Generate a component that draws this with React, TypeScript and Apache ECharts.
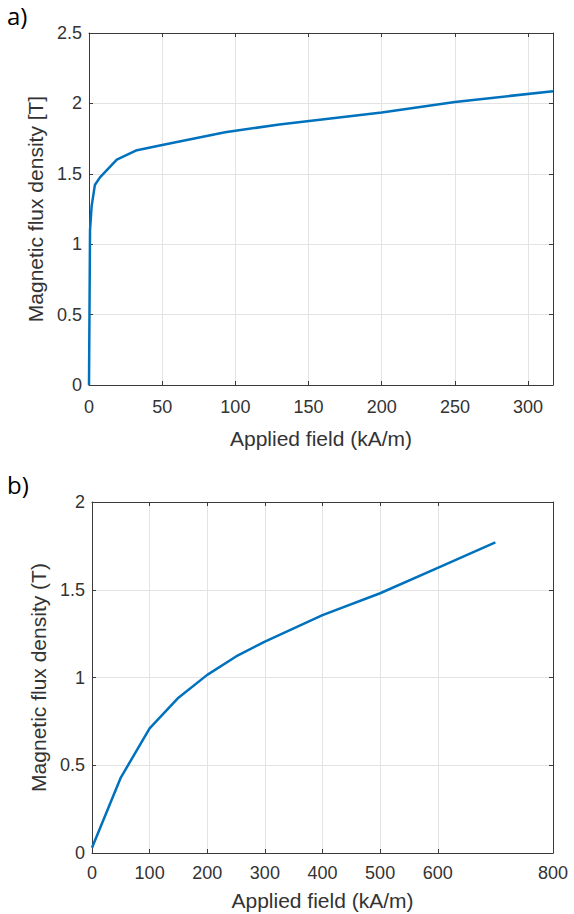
import React, { useEffect, useRef } from "react";
import * as echarts from "echarts";

// Panel a)
const xTicksA = [0, 50, 100, 150, 200, 250, 300];
const fieldA = [0, 0.7, 1.8, 4, 7.5, 19, 32, 50, 93, 130, 200, 250, 317];
const fluxA = [0, 1.1, 1.27, 1.42, 1.475, 1.6, 1.665, 1.705, 1.795, 1.85, 1.935, 2.01, 2.087];

// Panel b)
const xTicksB = [0, 100, 200, 300, 400, 500, 600, 800];
const fieldB = [0, 50, 100, 150, 200, 250, 300, 400, 500, 600, 700];
const fluxB = [0.03, 0.43, 0.71, 0.885, 1.015, 1.12, 1.205, 1.355, 1.48, 1.625, 1.77];

const AX = "#3a3a3a";
const TXT = "#333333";
const GRID = "#e3e3e3";
const LINE = "#0072BD";
const FONT = "Liberation Sans, Arial, sans-serif";

function mainX(gridIndex: number, max: number, ticks: number[], nameGap: number, margin: number) {
  return {
    type: "value",
    gridIndex,
    min: 0,
    max,
    name: "Applied field (kA/m)",
    nameLocation: "middle",
    nameGap,
    nameTextStyle: { fontSize: 21, color: TXT, fontFamily: FONT },
    axisLine: { show: true, onZero: false, lineStyle: { color: AX, width: 1 } },
    axisTick: { show: true, inside: true, length: 4, customValues: ticks, lineStyle: { color: AX } },
    axisLabel: { customValues: ticks, fontSize: 18, color: TXT, fontFamily: FONT, margin },
    splitLine: { show: true, lineStyle: { color: GRID, width: 1 } },
  };
}

function topX(gridIndex: number, max: number, ticks: number[]) {
  return {
    type: "value",
    gridIndex,
    position: "top",
    min: 0,
    max,
    axisLine: { show: true, onZero: false, lineStyle: { color: AX, width: 1 } },
    axisTick: { show: true, inside: true, length: 4, customValues: ticks, lineStyle: { color: AX } },
    axisLabel: { show: false },
    splitLine: { show: false },
  };
}

function mainY(gridIndex: number, max: number, name: string) {
  return {
    type: "value",
    gridIndex,
    min: 0,
    max,
    interval: 0.5,
    name,
    nameLocation: "middle",
    nameGap: 43,
    nameTextStyle: { fontSize: 21, color: TXT, fontFamily: FONT },
    axisLine: { show: true, onZero: false, lineStyle: { color: AX, width: 1 } },
    axisTick: { show: true, inside: true, length: 4, lineStyle: { color: AX } },
    axisLabel: { fontSize: 18, color: TXT, fontFamily: FONT, margin: 7 },
    splitLine: { show: true, lineStyle: { color: GRID, width: 1 } },
  };
}

function rightY(gridIndex: number, max: number) {
  return {
    type: "value",
    gridIndex,
    position: "right",
    min: 0,
    max,
    interval: 0.5,
    axisLine: { show: true, onZero: false, lineStyle: { color: AX, width: 1 } },
    axisTick: { show: true, inside: true, length: 4, lineStyle: { color: AX } },
    axisLabel: { show: false },
    splitLine: { show: false },
  };
}

export default function App() {
  const ref = useRef<HTMLDivElement>(null);
  useEffect(() => {
    if (!ref.current) return;
    const chart = echarts.init(ref.current, undefined, { renderer: "svg" });
    chart.setOption({
      animation: false,
      backgroundColor: "#ffffff",
      grid: [
        { left: 89, top: 33, width: 464, height: 352 },
        { left: 92, top: 502, width: 461, height: 351 },
      ],
      xAxis: [
        mainX(0, 317, xTicksA, 43, 13),
        topX(0, 317, xTicksA),
        mainX(1, 800, xTicksB, 37, 11),
        topX(1, 800, xTicksB),
      ],
      yAxis: [
        mainY(0, 2.5, "Magnetic flux density [T]"),
        rightY(0, 2.5),
        mainY(1, 2, "Magnetic flux density (T)"),
        rightY(1, 2),
      ],
      graphic: [
        { type: "text", left: 7, top: 3, style: { text: "a)", fontSize: 24, fill: "#000", fontFamily: "Open Sans, sans-serif" } },
        { type: "text", left: 7, top: 472, style: { text: "b)", fontSize: 24, fill: "#000", fontFamily: "Open Sans, sans-serif" } },
      ],
      series: [
        {
          type: "line",
          xAxisIndex: 0,
          yAxisIndex: 0,
          data: fieldA.map((x, i) => [x, fluxA[i]]),
          showSymbol: false,
          lineStyle: { color: LINE, width: 2.5 },
          itemStyle: { color: LINE },
        },
        {
          type: "line",
          xAxisIndex: 2,
          yAxisIndex: 2,
          data: fieldB.map((x, i) => [x, fluxB[i]]),
          showSymbol: false,
          lineStyle: { color: LINE, width: 2.5 },
          itemStyle: { color: LINE },
        },
      ],
    });
    return () => chart.dispose();
  }, []);
  return (
    <div
      ref={ref}
      style={{ position: "fixed", left: 0, top: 0, width: 574, height: 914, background: "#fff" }}
    />
  );
}
